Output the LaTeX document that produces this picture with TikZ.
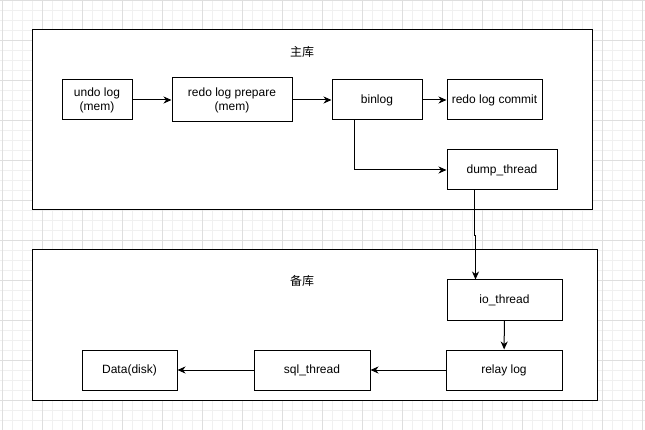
\documentclass[tikz,border=0pt]{standalone}
\usepackage{fontspec}
\setmainfont{Liberation Sans}
\newfontfamily\cjkfont{Noto Sans CJK SC}
\usepackage{tikz}
\usetikzlibrary{calc}
\usetikzlibrary{arrows.meta}
\tikzset{
	box/.style={draw=black,line width=1pt,minimum height=40pt,align=center,font=\fontsize{12}{14}\selectfont}
}
\tikzset{
	arr/.style={draw=black,line width=1pt,-{Stealth[length=8pt,width=7pt,inset=2.5pt]}}
}
\tikzset{
	area/.style={draw=black,line width=1pt}
}

\begin{document}
\begin{tikzpicture}[x=1pt,y=-1pt]
		\useasboundingbox (0,0) rectangle (645,430);
		% grid
		\foreach \i in {2,12,...,642}{
			\draw[black!6,line width=0.8pt] (\i,0) -- (\i,430);
		}
		\foreach \i in {0,10,...,430}{
			\draw[black!6,line width=0.8pt] (0,\i) -- (645,\i);
		}
		\foreach \i in {2,42,...,642}{
			\draw[black!13,line width=0.8pt] (\i,0) -- (\i,430);
		}
		\foreach \i in {0,40,...,430}{
			\draw[black!13,line width=0.8pt] (0,\i) -- (645,\i);
		}
		\filldraw[area,fill=white] (32,30) rectangle (592,210);
		\filldraw[area,fill=white] (32,250) rectangle (597,400);
		\node[font=\cjkfont\fontsize{12}{14}\selectfont] (zhu) at (302,52) {主库};
		\node[font=\cjkfont\fontsize{12}{14}\selectfont] (bei) at (302,281) {备库};
		\node[box,minimum width=70pt] (undo) at (97,100) {undo log\\(mem)};
		\node[box,minimum width=120pt,minimum height=44pt] (prep) at (232,100) {redo log prepare\\(mem)};
		\node[box,minimum width=90pt] (binlog) at (377,100) {binlog};
		\node[box,minimum width=95pt] (commit) at (494.5,100) {redo log commit};
		\node[box,minimum width=110pt] (dump) at (502,170) {dump\_thread};
		\node[box,minimum width=115pt] (io) at (504.5,300) {io\_thread};
		\node[box,minimum width=116pt] (relay) at (504,370) {relay log};
		\node[box,minimum width=116pt] (sql) at (312,370) {sql\_thread};
		\node[box,minimum width=95pt] (data) at (129.5,370) {Data(disk)};
		\draw[arr] (undo) -- (prep);
		\draw[arr] (prep) -- (binlog);
		\draw[arr] (binlog) -- (commit);
		\draw[arr] ($(binlog.south west)+(23,0)$) |- (dump.west);
		\draw[arr] ($(dump.south west)+(28,0)$) -- ++(0,45) -| ($(io.north west)+(29,0)$);
		\draw[arr] (io) -- (relay);
		\draw[arr] (relay) -- (sql);
		\draw[arr] (sql) -- (data);
	\end{tikzpicture}
\end{document}
